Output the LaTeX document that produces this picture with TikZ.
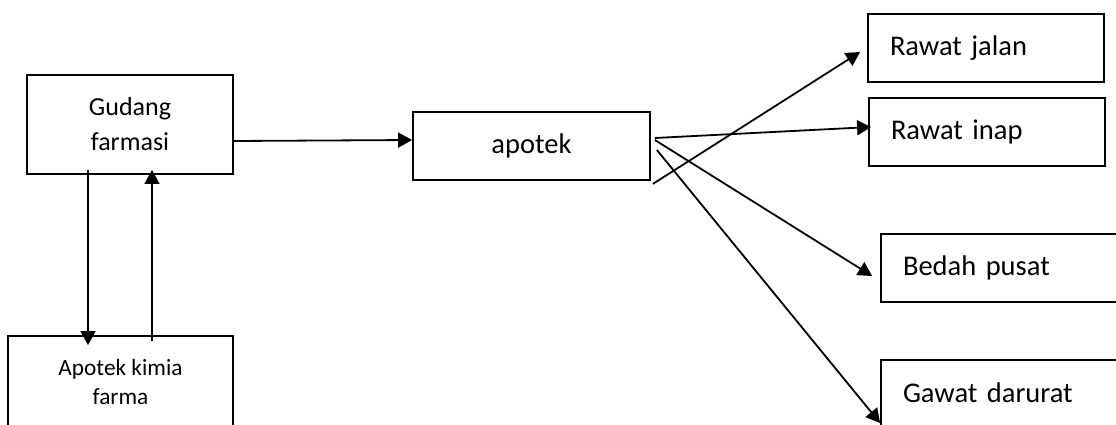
\documentclass[tikz,border=0pt]{standalone}
\usepackage{fontspec}
\setmainfont{Carlito}
\usetikzlibrary{arrows.meta,calc}

\begin{document}
\begin{tikzpicture}[x=1pt,y=-1pt,line width=1.8pt,
  box/.style={draw,rectangle,inner sep=0pt},
  lbox/.style={box,align=left,inner xsep=22pt,font=\fontsize{28.5}{34}\selectfont},
  >={Triangle[length=14pt,width=15pt]}]
\useasboundingbox (0,0) rectangle (1116,424);
\node[box,minimum width=206pt,minimum height=99pt,align=center,font=\fontsize{26}{35}\selectfont] (gudang) at (130,124.5) {Gudang\\farmasi};
\node[box,minimum width=225pt,minimum height=92pt,align=center,font=\fontsize{23.3}{29}\selectfont] (kimia) at (120.5,382) {Apotek kimia\\farma};
\node[box,minimum width=237pt,minimum height=68pt,font=\fontsize{28.5}{34}\selectfont] (apotek) at (531.5,146) {apotek};
\node[lbox,text width=192pt,minimum height=68pt] (jalan) at (986,48) {Rawat jalan};
\node[lbox,text width=192pt,minimum height=68pt] (inap) at (987,132) {Rawat inap};
\node[lbox,text width=215pt,minimum height=68pt] (bedah) at (1010.5,268) {Bedah pusat};
\node[lbox,text width=215pt,minimum height=66pt] (gawat) at (1010.5,393) {Gawat darurat};
\draw[->] ($(gudang.east)+(0,16.5)$) -- ($(apotek.west)+(0,-6)$);
\draw[->] ($(gudang.south)+(-42,-5)$) -- ($(kimia.north)+(-32.5,10)$);
\draw[->] ($(kimia.north)+(31.5,6)$) -- ($(gudang.south)+(22,-5)$);
\draw[->] ($(apotek.south east)+(2,3)$) -- ($(jalan.west)+(-7,4)$);
\draw[->] ($(apotek.east)+(4,-8)$) -- ($(inap.west)+(3,-5)$);
\draw[->] ($(apotek.east)+(4,-6)$) -- ($(bedah.west)+(-8,8)$);
\draw[->] ($(apotek.east)+(6,4)$) -- ($(gawat.west)+(0,30)$);
\end{tikzpicture}
\end{document}
